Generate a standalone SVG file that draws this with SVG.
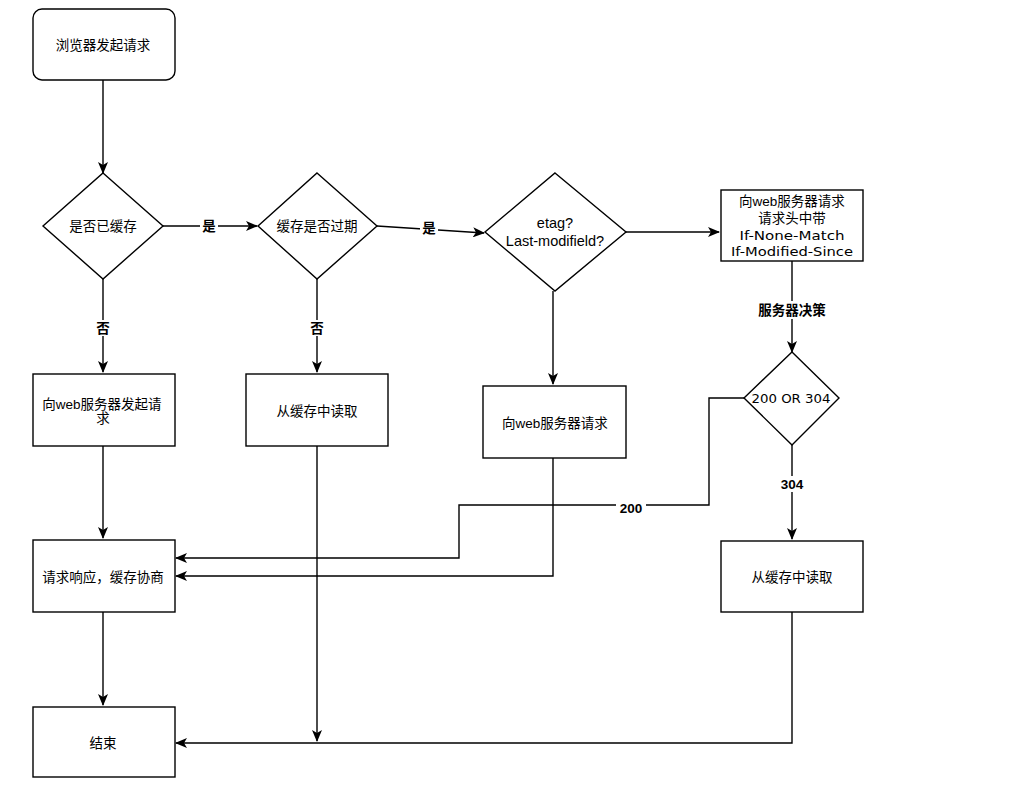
<svg xmlns="http://www.w3.org/2000/svg" width="1024" height="792" viewBox="0 0 1024 792">
<style>
.shape{fill:#fff;stroke:#000;stroke-width:1.4}
.edge{fill:none;stroke:#000;stroke-width:1.4}
.t{font-family:"Liberation Sans","Noto Sans CJK SC",sans-serif;font-size:13.5px;fill:#000;text-anchor:middle;dominant-baseline:central}
.lbl{font-family:"Liberation Sans","Noto Sans CJK SC",sans-serif;font-size:13.5px;font-weight:bold;fill:#000;text-anchor:middle;dominant-baseline:central}
.bg{fill:#fff}
</style>
<defs>
<marker id="arr" viewBox="0 0 12 10" refX="11" refY="5" markerWidth="12" markerHeight="10" markerUnits="userSpaceOnUse" orient="auto">
<path d="M0,0 L12,5 L0,10 L3,5 Z" fill="#000"/>
</marker>
</defs>
<rect width="1024" height="792" fill="#fff"/>
<g id="connectors">
<path class="edge" d="M103,80 V173" marker-end="url(#arr)"/>
<path class="edge" d="M163,226 H257" marker-end="url(#arr)"/>
<rect class="bg" x="200" y="218" width="18" height="16"/>
<text class="lbl" x="209" y="226">是</text>
<path class="edge" d="M377,226 L484,233" marker-end="url(#arr)"/>
<rect class="bg" x="420" y="220" width="18" height="16"/>
<text class="lbl" x="429" y="228">是</text>
<path class="edge" d="M626,232 H719" marker-end="url(#arr)"/>
<path class="edge" d="M103,279 V372" marker-end="url(#arr)"/>
<rect class="bg" x="94" y="320" width="18" height="16"/>
<text class="lbl" x="103" y="328">否</text>
<path class="edge" d="M317,279 V372" marker-end="url(#arr)"/>
<rect class="bg" x="308" y="320" width="18" height="16"/>
<text class="lbl" x="317" y="328">否</text>
<path class="edge" d="M553,291 V384" marker-end="url(#arr)"/>
<path class="edge" d="M792,261 V352" marker-end="url(#arr)"/>
<rect class="bg" x="754" y="301" width="76" height="18"/>
<text class="lbl" x="792" y="310">服务器决策</text>
<path class="edge" d="M744,398 H709 V505 H459 V558 H176" marker-end="url(#arr)"/>
<rect class="bg" x="616" y="500" width="30" height="16"/>
<text class="lbl" x="631" y="508">200</text>
<path class="edge" d="M792,445 V539" marker-end="url(#arr)"/>
<rect class="bg" x="777" y="476" width="30" height="16"/>
<text class="lbl" x="792" y="484">304</text>
<path class="edge" d="M553,458 V576 H176" marker-end="url(#arr)"/>
<path class="edge" d="M103,446 V538" marker-end="url(#arr)"/>
<path class="edge" d="M103,612 V705" marker-end="url(#arr)"/>
<path class="edge" d="M317,446 V741" marker-end="url(#arr)"/>
<path class="edge" d="M792,612 V743 H176" marker-end="url(#arr)"/>
</g>
<g id="start">
<rect class="shape" x="33" y="9" width="142" height="71" rx="9"/>
<text class="t" x="103" y="45">浏览器发起请求</text>
</g>
<g id="d-cached">
<path class="shape" d="M103,173 L163,226 L103,279 L43,226 Z"/>
<text class="t" x="103" y="226">是否已缓存</text>
</g>
<g id="d-expired">
<path class="shape" d="M317,173 L377,226 L317,279 L258,226 Z"/>
<text class="t" x="317" y="226">缓存是否过期</text>
</g>
<g id="d-etag">
<path class="shape" d="M555,173 L626,232 L555,291 L485,232 Z"/>
<text class="t" x="555" y="223" style="font-size:14.5px">etag?</text>
<text class="t" x="555" y="241" style="font-size:14.5px">Last-modifield?</text>
</g>
<g id="req-headers">
<rect class="shape" x="721" y="190" width="142" height="71"/>
<text class="t" x="792" y="201">向web服务器请求</text>
<text class="t" x="792" y="218">请求头中带</text>
<text class="t" x="792" y="235" style="font-family:'DejaVu Sans',sans-serif;font-size:13px" textLength="105" lengthAdjust="spacingAndGlyphs">If-None-Match</text>
<text class="t" x="792" y="251" style="font-family:'DejaVu Sans',sans-serif;font-size:13px" textLength="122" lengthAdjust="spacingAndGlyphs">If-Modified-Since</text>
</g>
<g id="d-status">
<path class="shape" d="M792,352 L839,398 L792,445 L744,398 Z"/>
<text class="t" x="791" y="398" style="font-family:'DejaVu Sans',sans-serif;font-size:13px" textLength="79" lengthAdjust="spacingAndGlyphs">200 OR 304</text>
</g>
<g id="req-web">
<rect class="shape" x="33" y="374" width="142" height="72"/>
<text class="t" x="102" y="404">向web服务器发起请</text>
<text class="t" x="103" y="418">求</text>
</g>
<g id="read-cache-1">
<rect class="shape" x="246" y="374" width="142" height="72"/>
<text class="t" x="317" y="411">从缓存中读取</text>
</g>
<g id="req-web-2">
<rect class="shape" x="483" y="386" width="143" height="72"/>
<text class="t" x="555" y="423">向web服务器请求</text>
</g>
<g id="negotiate">
<rect class="shape" x="33" y="540" width="142" height="72"/>
<text class="t" x="103" y="577">请求响应，缓存协商</text>
</g>
<g id="read-cache-2">
<rect class="shape" x="721" y="541" width="142" height="71"/>
<text class="t" x="792" y="577">从缓存中读取</text>
</g>
<g id="end">
<rect class="shape" x="33" y="707" width="142" height="70"/>
<text class="t" x="103" y="743">结束</text>
</g>
</svg>
